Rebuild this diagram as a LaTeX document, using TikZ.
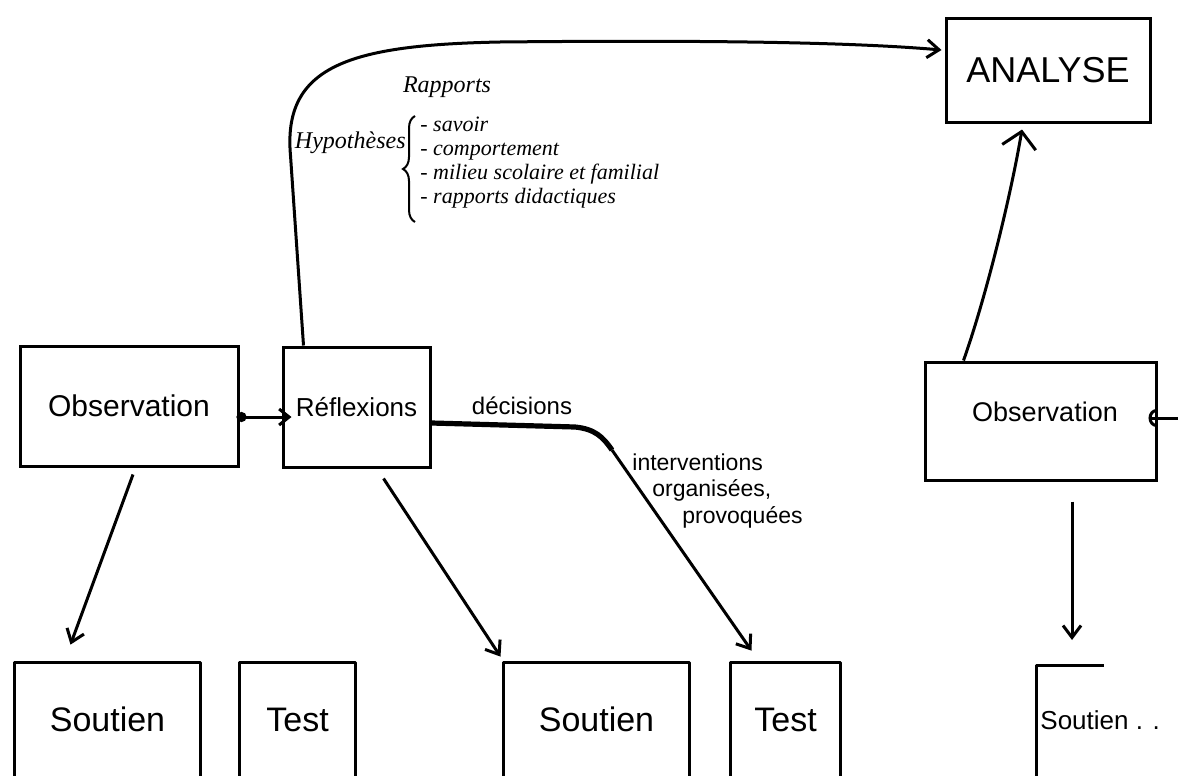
\documentclass[tikz,border=0pt]{standalone}
\usepackage{fontspec}
\setmainfont{Liberation Sans}
\newfontfamily\handfont{Liberation Serif}
\usetikzlibrary{arrows.meta,calc,decorations.pathreplacing}
\begin{document}
\begin{tikzpicture}[x=0.5pt,y=-0.5pt,
  box/.style={draw, line width=1.5pt, inner sep=0pt},
  openbox/.style={inner sep=0pt},
  boxline/.style={line width=1.5pt, line join=round},
  edge/.style={line width=1.5pt},
  arr/.style={edge, -{Straight Barb[length=6pt,width=9pt]}},
  hand/.style={font=\handfont\itshape\fontsize{11}{12}\selectfont, inner sep=0pt},
  fs/.style={font=\fontsize{#1}{#1}\selectfont}]
\useasboundingbox (0,0) rectangle (1178,776);

% boxes
\node[box, minimum width=109pt, minimum height=60pt, fs=15] (obs1) at (129,406) {Observation};
\node[box, minimum width=73.5pt, minimum height=60pt, fs=13] (refl) at (356.5,407) {Réflexions};
\node[box, minimum width=102pt, minimum height=52pt, fs=18] (ana) at (1048,70) {ANALYSE};
\node[box, minimum width=115.5pt, minimum height=59pt] (obs2) at (1040.5,421) {};
\node[fs=13.5, inner sep=0pt] (obs2t) at (1045,412) {Observation};

\node[openbox, minimum width=92.5pt, minimum height=56.5pt, fs=17] (s1) at (107.5,719.5) {Soutien};
\node[openbox, minimum width=57.5pt, minimum height=56.5pt, fs=17] (t1) at (297.5,719.5) {Test};
\node[openbox, minimum width=92.5pt, minimum height=56.5pt, fs=17] (s2) at (596.5,719.5) {Soutien};
\node[openbox, minimum width=54.5pt, minimum height=56.5pt, fs=17] (t2) at (785.5,719.5) {Test};
\draw[boxline] (s1.south west) -- (s1.north west) -- (s1.north east) -- (s1.south east);
\draw[boxline] (t1.south west) -- (t1.north west) -- (t1.north east) -- (t1.south east);
\draw[boxline] (s2.south west) -- (s2.north west) -- (s2.north east) -- (s2.south east);
\draw[boxline] (t2.south west) -- (t2.north west) -- (t2.north east) -- (t2.south east);

\node[anchor=west, fs=13, inner sep=0pt] (s3t) at (1040,720) {Soutien . .};
\coordinate (s3a) at (1036,776);
\coordinate (s3b) at (1036,665);
\coordinate (s3c) at (1104,665);
\draw[boxline] (s3a) -- (s3b) -- (s3c);

% handwritten notes
\node[hand, font=\handfont\itshape\fontsize{12}{13}\selectfont] (rap) at (447,87) {Rapports};
\node[hand, anchor=east, font=\handfont\itshape\fontsize{12}{13}\selectfont] (hyp) at (406,143) {Hypothèses};
\node[hand, anchor=base west] (i1) at (420,131) {- savoir};
\node[hand, anchor=base west] (i2) at (420,155) {- comportement};
\node[hand, anchor=base west] (i3) at (420,179) {- milieu scolaire et familial};
\node[hand, anchor=base west] (i4) at (420,203) {- rapports didactiques};
\coordinate (brB) at (415,222);
\coordinate (brT) at (415,116);
\draw[line width=1pt, decorate, decoration={brace, amplitude=6pt}] (brB) -- (brT);

\node[fs=12, inner sep=0pt] (dec) at (522,406) {décisions};
\node[fs=11.5, anchor=west, inner sep=0pt] (iv1) at (632,462) {interventions};
\node[fs=11.5, anchor=west, inner sep=0pt] (iv2) at (652,490) {organisées,};
\node[fs=11.5, anchor=west, inner sep=0pt] (iv3) at (682,517) {provoquées};

% connectors
\draw[edge, {Circle[length=5pt]}-{Straight Barb[length=5pt,width=8pt]}]
  ($(obs1.east)+(-3,11)$) -- ($(refl.west)+(10,10)$);
\draw[arr] ($(refl.north)+(-53,0)$) -- ++(-13,-190)
  .. controls +(-8,-90) and (350,45) .. (500,42)
  .. controls (700,40) and (850,42) .. ($(ana.west)+(-3,-20)$);
\draw[arr] ($(obs1.south)+(4,7)$) -- ($(s1.north)+(-37,-18)$);
\draw[arr] ($(refl.south)+(27,10)$) -- ($(s2.north)+(-96,-6)$);
\draw[line width=2.6pt] ($(refl.east)+(0,16)$) -- (575,427)
  .. controls (595,429) and (603,437) .. (612,450) coordinate (bend);
\draw[arr] (bend) -- ($(t2.north)+(-34,-12)$);
\draw[edge, -{Straight Barb[length=8pt,width=17pt]}]
  ($(obs2.north west)+(40,0)$) .. controls (985,300) and (1010,200) .. ($(ana.south)+(-26,6)$);
\coordinate (inR) at (1178,418);
\draw[edge, -{Arc Barb[length=4pt,width=9pt]}] (inR) -- ($(obs2.east)+(-9,-3)$);
\coordinate (s3arrow) at (1072,640);
\draw[arr] ($(obs2.south)+(31.5,20)$) -- (s3arrow);
\end{tikzpicture}
\end{document}
